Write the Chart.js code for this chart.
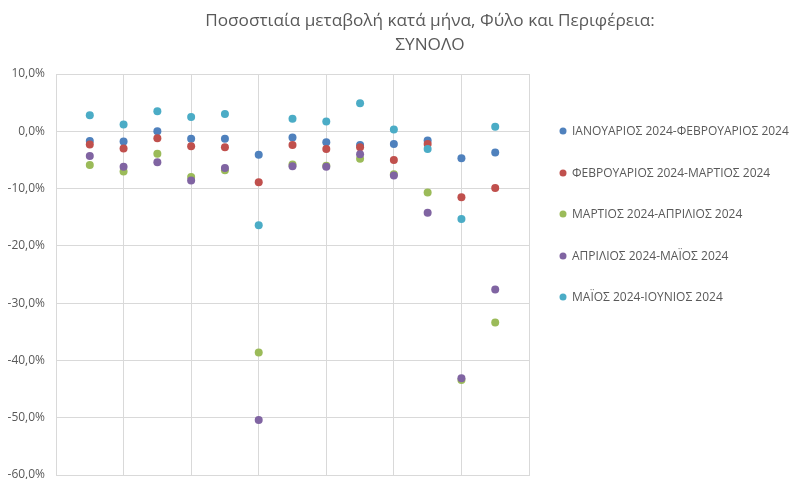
<!DOCTYPE html>
<html>
<head>
<meta charset="utf-8">
<script src="https://cdn.jsdelivr.net/npm/chart.js@4/dist/chart.umd.min.js"></script>
<style>
html,body{margin:0;padding:0;background:#fff;}
#wrap{width:795px;height:479px;position:relative;}
</style>
</head>
<body>
<div id="wrap"><canvas id="c" width="795" height="479"></canvas></div>
<script>
const titleLines = ["Ποσοστιαία μεταβολή κατά μήνα, Φύλο και Περιφέρεια:", "ΣΥΝΟΛΟ"];
const xValues = [1,2,3,4,5,6,7,8,9,10,11,12,13];
const seriesNames = [
  "ΙΑΝΟΥΑΡΙΟΣ 2024-ΦΕΒΡΟΥΑΡΙΟΣ 2024",
  "ΦΕΒΡΟΥΑΡΙΟΣ 2024-ΜΑΡΤΙΟΣ 2024",
  "ΜΑΡΤΙΟΣ 2024-ΑΠΡΙΛΙΟΣ 2024",
  "ΑΠΡΙΛΙΟΣ 2024-ΜΑΪΟΣ 2024",
  "ΜΑΪΟΣ 2024-ΙΟΥΝΙΟΣ 2024"
];
const janFeb = [-1.7,-1.8,0.0,-1.3,-1.3,-4.1,-1.1,-1.9,-2.4,-2.2,-1.6,-4.7,-3.7];
const febMar = [-2.3,-3.0,-1.2,-2.6,-2.8,-8.9,-2.4,-3.1,-2.8,-5.0,-2.2,-11.5,-9.9];
const marApr = [-5.9,-7.0,-3.9,-8.0,-6.8,-38.6,-5.8,-6.0,-4.8,-7.5,-10.7,-43.4,-33.4];
const aprMay = [-4.3,-6.2,-5.4,-8.6,-6.4,-50.4,-6.1,-6.2,-4.0,-7.7,-14.2,-43.1,-27.6];
const mayJun = [2.8,1.2,3.5,2.5,3.0,-16.4,2.2,1.7,4.9,0.3,-3.1,-15.3,0.8];
const yTicks = [10,0,-10,-20,-30,-40,-50,-60];

const colors = ["#4F81BD","#C0504D","#9BBB59","#8064A2","#4BACC6"];
const allSeries = [janFeb, febMar, marApr, aprMay, mayJun];
const textColor = "#595959";
const fontFamily = "'Open Sans', sans-serif";

const datasets = allSeries.map((vals, i) => ({
  label: seriesNames[i],
  data: vals.map((v, j) => ({x: xValues[j], y: v})),
  backgroundColor: colors[i],
  borderColor: colors[i],
  pointRadius: 4,
  pointBorderWidth: 0,
  showLine: false,
  order: allSeries.length - 1 - i
}));

const fmt = v => (v.toFixed(1).replace('.', ',')) + '%';

const extrasPlugin = {
  id: 'extras',
  afterDraw(chart) {
    const ctx = chart.ctx;
    ctx.save();
    ctx.fillStyle = textColor;
    ctx.textAlign = 'center';
    ctx.textBaseline = 'middle';
    ctx.font = "17.2px " + fontFamily;
    ctx.fillText(titleLines[0], 430, 21);
    ctx.fillText(titleLines[1], 430, 45);
    // legend
    const ys = [131,173,214,256,297];
    ctx.textAlign = 'left';
    ctx.font = "12px " + fontFamily;
    seriesNames.forEach((n, i) => {
      ctx.fillStyle = colors[i];
      ctx.beginPath();
      ctx.arc(563, ys[i], 3.5, 0, Math.PI*2);
      ctx.fill();
      ctx.fillStyle = textColor;
      ctx.fillText(n, 572, ys[i] + 1);
    });
    ctx.restore();
  }
};

new Chart(document.getElementById('c'), {
  type: 'scatter',
  data: { datasets },
  options: {
    responsive: false,
    animation: false,
    devicePixelRatio: 1,
    layout: { padding: { left: 0, right: 266, top: 74, bottom: 0 } },
    plugins: { legend: { display: false }, tooltip: { enabled: false }, title: { display: false } },
    scales: {
      x: {
        type: 'linear', min: 0, max: 14,
        ticks: { display: false, stepSize: 2 },
        grid: { color: '#D9D9D9', drawTicks: false, lineWidth: 1 },
        border: { color: '#D9D9D9' },
        afterFit(s) { s.height = 4; s.paddingLeft = 0; s.paddingRight = 0; }
      },
      y: {
        min: -60, max: 10,
        afterBuildTicks(s) { s.ticks = yTicks.map(v => ({value: v})); },
        ticks: { callback: v => fmt(v), color: textColor, font: { family: fontFamily, size: 12 }, padding: 11 },
        grid: { color: '#D9D9D9', drawTicks: false, lineWidth: 1 },
        border: { color: '#D9D9D9' },
        afterFit(s) { s.width = 56; s.paddingTop = 0; s.paddingBottom = 0; }
      }
    }
  },
  plugins: [extrasPlugin]
});
</script>
</body>
</html>
